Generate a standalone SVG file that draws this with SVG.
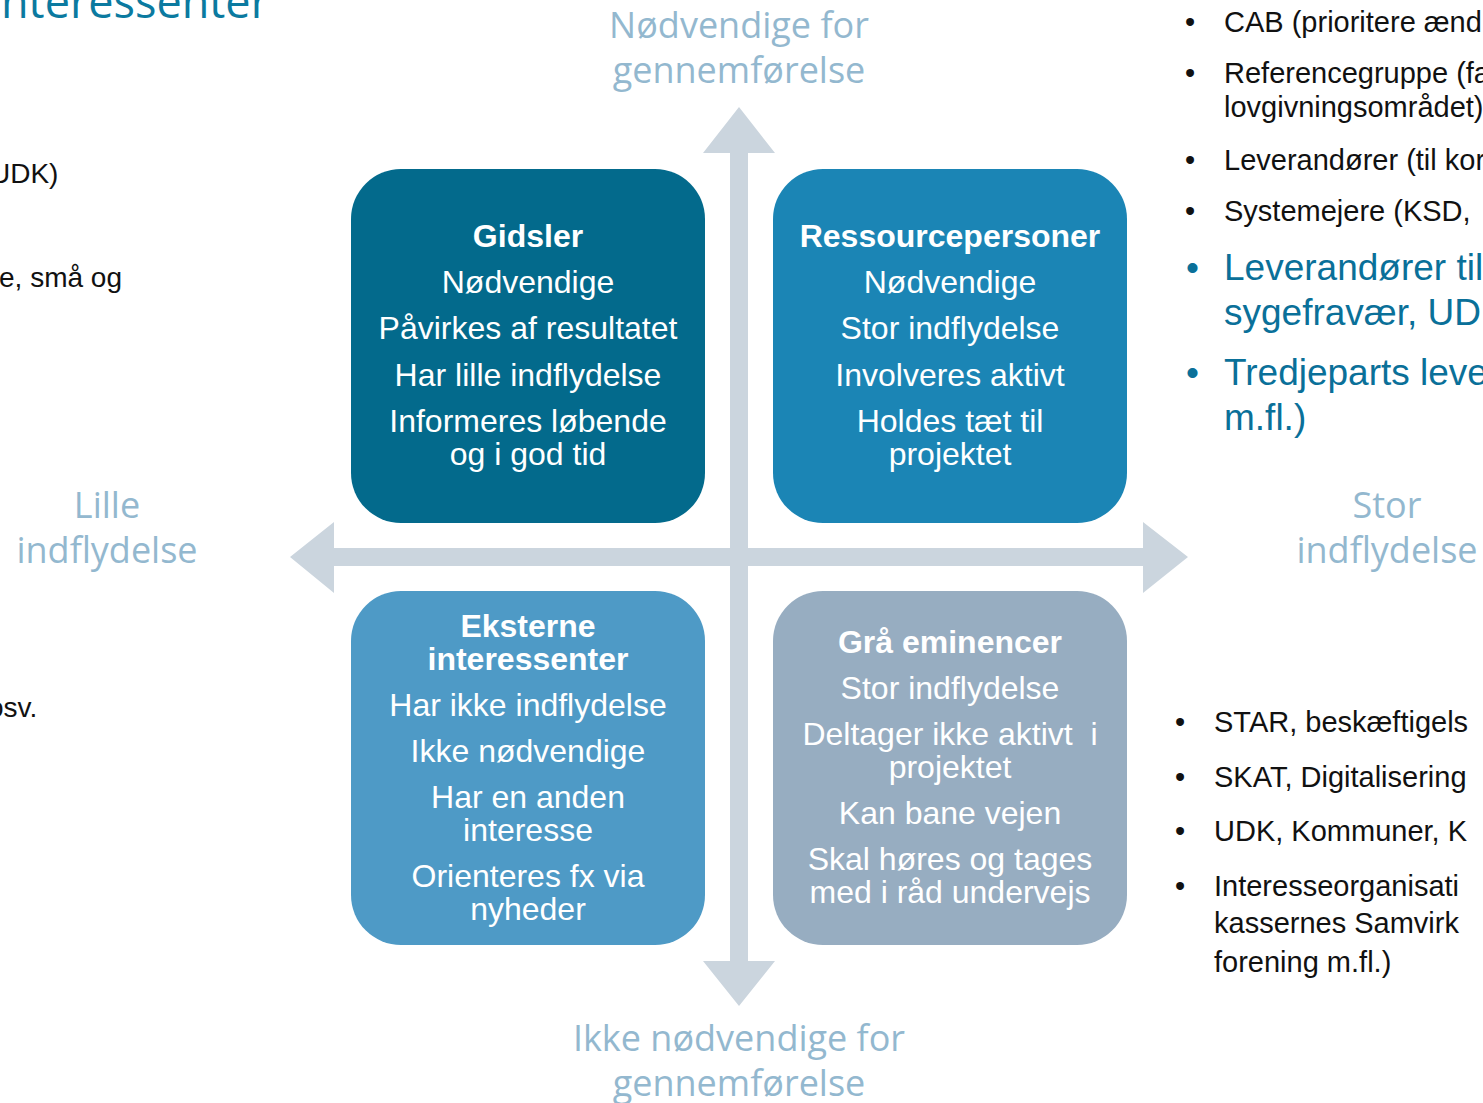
<svg xmlns="http://www.w3.org/2000/svg" width="1483" height="1103" viewBox="0 0 1483 1103">
<style>
.bx{font-family:"Liberation Sans",Arial,sans-serif;font-size:32px;fill:#ffffff;text-anchor:middle}
.b{font-weight:bold}
.ax{font-family:"Open Sans","Noto Sans",sans-serif;font-size:36px;fill:#93B8CF;text-anchor:middle}
.sd{font-family:"Liberation Sans",Arial,sans-serif;font-size:29px;fill:#111111}
.sl{font-family:"Liberation Sans",Arial,sans-serif;font-size:28px;fill:#111111}
.sb{font-family:"Liberation Sans",Arial,sans-serif;font-size:37px;fill:#0A7099}
.arrow{fill:#CBD5DE}
</style>
<rect width="1483" height="1103" fill="#ffffff"/>
<text x="1" y="18" font-family="'Open Sans','Noto Sans',sans-serif" font-size="45" fill="#0B7AA0">nteressenter</text>

<g id="left-notes" class="sl">
<text x="-10" y="183">UDK)</text>
<text x="-1" y="287">e, små og</text>
<text x="-12" y="717">osv.</text>
</g>

<g id="right-notes">
<g class="sd">
<text x="1185" y="32">•</text><text x="1224" y="32">CAB (prioritere ænd</text>
<text x="1185" y="83">•</text><text x="1224" y="83">Referencegruppe (fa</text>
<text x="1224" y="117">lovgivningsområdet)</text>
<text x="1185" y="170">•</text><text x="1224" y="170">Leverandører (til kor</text>
<text x="1185" y="221">•</text><text x="1224" y="221">Systemejere (KSD, </text>
</g>
<g class="sb">
<text x="1186" y="280">•</text><text x="1224" y="280">Leverandører til</text>
<text x="1224" y="325">sygefravær, UD</text>
<text x="1186" y="385">•</text><text x="1224" y="385">Tredjeparts leve</text>
<text x="1224" y="430">m.fl.)</text>
</g>
<g class="sd">
<text x="1175" y="732">•</text><text x="1214" y="732">STAR, beskæftigels</text>
<text x="1175" y="787">•</text><text x="1214" y="787">SKAT, Digitalisering</text>
<text x="1175" y="841">•</text><text x="1214" y="841">UDK, Kommuner, K</text>
<text x="1175" y="896">•</text><text x="1214" y="896">Interesseorganisati</text>
<text x="1214" y="933">kassernes Samvirk</text>
<text x="1214" y="972">forening m.fl.)</text>
</g>
</g>

<g id="axes">
<polygon class="arrow" points="290,557 334,522 334,548 1143,548 1143,522 1188,557 1143,593 1143,566 334,566 334,593"/>
<polygon class="arrow" points="739,107 775,153 748,153 748,961 775,961 739,1006 703,961 730,961 730,153 703,153"/>
</g>

<g id="axis-labels" class="ax">
<text x="739" y="38">Nødvendige for</text>
<text x="739" y="83">gennemførelse</text>
<text x="107" y="518">Lille</text>
<text x="107" y="563">indflydelse</text>
<text x="1387" y="518">Stor</text>
<text x="1387" y="563">indflydelse</text>
<text x="739" y="1051">Ikke nødvendige for</text>
<text x="739" y="1096">gennemførelse</text>
</g>

<g id="gidsler">
<rect x="351" y="169" width="354" height="354" rx="50" fill="#036A8C"/>
<g class="bx">
<text class="b" x="528" y="247">Gidsler</text>
<text x="528" y="293">Nødvendige</text>
<text x="528" y="339">Påvirkes af resultatet</text>
<text x="528" y="386">Har lille indflydelse</text>
<text x="528" y="432">Informeres løbende</text>
<text x="528" y="465">og i god tid</text>
</g>
</g>

<g id="ressourcepersoner">
<rect x="773" y="169" width="354" height="354" rx="50" fill="#1B85B5"/>
<g class="bx">
<text class="b" x="950" y="247">Ressourcepersoner</text>
<text x="950" y="293">Nødvendige</text>
<text x="950" y="339">Stor indflydelse</text>
<text x="950" y="386">Involveres aktivt</text>
<text x="950" y="432">Holdes tæt til</text>
<text x="950" y="465">projektet</text>
</g>
</g>

<g id="eksterne">
<rect x="351" y="591" width="354" height="354" rx="50" fill="#4E9AC6"/>
<g class="bx">
<text class="b" x="528" y="637">Eksterne</text>
<text class="b" x="528" y="670">interessenter</text>
<text x="528" y="716">Har ikke indflydelse</text>
<text x="528" y="762">Ikke nødvendige</text>
<text x="528" y="808">Har en anden</text>
<text x="528" y="841">interesse</text>
<text x="528" y="887">Orienteres fx via</text>
<text x="528" y="920">nyheder</text>
</g>
</g>

<g id="graa-eminencer">
<rect x="773" y="591" width="354" height="354" rx="50" fill="#97ADC1"/>
<g class="bx">
<text class="b" x="950" y="653">Grå eminencer</text>
<text x="950" y="699">Stor indflydelse</text>
<text x="950" y="745" xml:space="preserve">Deltager ikke aktivt  i</text>
<text x="950" y="778">projektet</text>
<text x="950" y="824">Kan bane vejen</text>
<text x="950" y="870">Skal høres og tages</text>
<text x="950" y="903">med i råd undervejs</text>
</g>
</g>
</svg>
